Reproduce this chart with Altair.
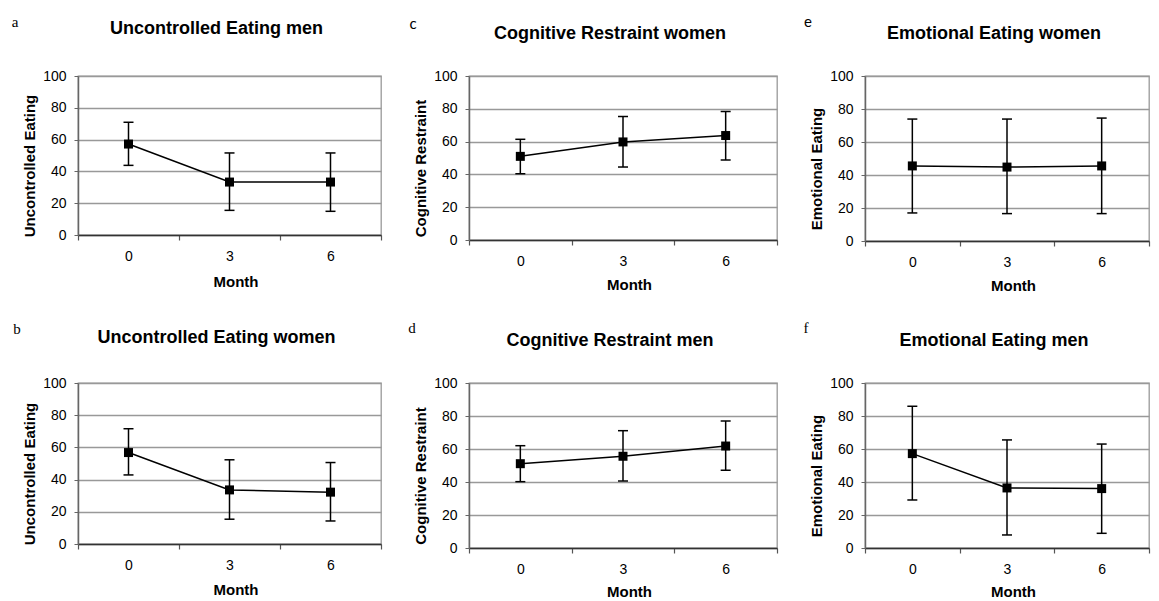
import altair as alt
import pandas as pd

months = ["0", "3", "6"]

ue_men_mean = [57.2, 33.3, 33.3]
ue_men_low = [43.8, 15.5, 14.9]
ue_men_high = [70.9, 51.6, 51.6]

ue_women_mean = [56.8, 33.6, 32.2]
ue_women_low = [42.9, 15.4, 14.3]
ue_women_high = [71.6, 52.3, 50.6]

cr_women_mean = [51.0, 59.8, 63.7]
cr_women_low = [40.4, 44.5, 48.8]
cr_women_high = [61.4, 75.3, 78.4]

cr_men_mean = [51.1, 55.6, 61.8]
cr_men_low = [40.2, 40.6, 47.1]
cr_men_high = [62.0, 71.1, 77.0]

ee_women_mean = [45.5, 44.8, 45.5]
ee_women_low = [17.0, 16.6, 16.6]
ee_women_high = [73.9, 73.9, 74.5]

ee_men_mean = [57.2, 36.4, 36.0]
ee_men_low = [29.1, 7.9, 8.9]
ee_men_high = [85.9, 65.5, 63.0]

y_ticks = [0, 20, 40, 60, 80, 100]

SANS = "Liberation Sans"


def panel(letter, letter_font, title, ytitle, mean, low, high, w, h, toff, lx, ly, xtp):
    df = pd.DataFrame({"Month": months, "mean": mean, "low": low, "high": high})
    x = alt.X(
        "Month:N", sort=months, title="Month",
        scale=alt.Scale(type="band", paddingInner=0, paddingOuter=0),
        axis=alt.Axis(
            labelAngle=0, tickBand="extent", ticks=True, tickSize=5,
            tickColor="#555", tickWidth=1.2, domainColor="#333", domainWidth=1.5,
            labelFontSize=14, labelPadding=9, titleFontSize=15,
            titleFontWeight="bold", titlePadding=xtp, grid=False, titleX=w / 2 + 6,
        ),
    )
    yscale = alt.Scale(domain=[0, 100])
    yaxis = alt.Axis(
        values=y_ticks, grid=True, gridColor="#999", gridWidth=1.3,
        domainColor="#666", domainWidth=1.5, tickColor="#666", tickSize=4,
        labelFontSize=14, labelPadding=8, titleFontSize=15,
        titleFontWeight="bold", titlePadding=5, titleY=h / 2 + 10,
    )
    base = alt.Chart(df).encode(x=x)
    stems = base.mark_rule(color="black", strokeWidth=1.5).encode(
        y=alt.Y("low:Q", scale=yscale, axis=yaxis, title=ytitle), y2="high:Q")
    caps_low = base.mark_tick(color="black", thickness=1.5, size=10, opacity=1).encode(
        y=alt.Y("low:Q", scale=yscale, axis=yaxis, title=ytitle))
    caps_high = base.mark_tick(color="black", thickness=1.5, size=10, opacity=1).encode(
        y=alt.Y("high:Q", scale=yscale, axis=yaxis, title=ytitle))
    line = base.mark_line(color="black", strokeWidth=1.5).encode(
        y=alt.Y("mean:Q", scale=yscale, axis=yaxis, title=ytitle))
    pts = base.mark_square(color="black", size=81, opacity=1).encode(
        y=alt.Y("mean:Q", scale=yscale, axis=yaxis, title=ytitle))
    lab = alt.Chart(pd.DataFrame({"t": [letter]})).mark_text(
        font=letter_font, fontSize=15, color="black", align="center", baseline="middle"
    ).encode(text="t:N", x=alt.value(lx), y=alt.value(ly))
    ttl = alt.Chart(pd.DataFrame({"t": [title]})).mark_text(
        font=SANS, fontSize=18, fontWeight="bold", color="black",
        align="center", baseline="alphabetic",
    ).encode(text="t:N", x=alt.value(w / 2 - 13), y=alt.value(-toff))
    return alt.layer(stems, caps_low, caps_high, line, pts, lab, ttl).properties(
        width=w, height=h,
    )


charts = [
    panel("a", "Liberation Serif", "Uncontrolled Eating men", "Uncontrolled Eating",
          ue_men_mean, ue_men_low, ue_men_high, 303, 159, 42, -63, -54, 11),
    panel("c", "Lato", "Cognitive Restraint women", "Cognitive Restraint",
          cr_women_mean, cr_women_low, cr_women_high, 308, 164, 37, -56, -52, 9),
    panel("e", "Lato", "Emotional Eating women", "Emotional Eating",
          ee_women_mean, ee_women_low, ee_women_high, 284, 165, 37, -57, -54, 9),
    panel("b", "Liberation Serif", "Uncontrolled Eating women", "Uncontrolled Eating",
          ue_women_mean, ue_women_low, ue_women_high, 303, 161, 40, -61, -54, 10),
    panel("d", "Liberation Serif", "Cognitive Restraint men", "Cognitive Restraint",
          cr_men_mean, cr_men_low, cr_men_high, 308, 165, 37, -57, -55, 8),
    panel("f", "Liberation Serif", "Emotional Eating men", "Emotional Eating",
          ee_men_mean, ee_men_low, ee_men_high, 284, 165, 37, -59, -55, 8),
]

chart = alt.concat(
    *charts, columns=3, spacing={"row": 142, "column": 88},
    bounds="flush", align="each",
).properties(
    padding={"left": 3, "top": 6, "right": 0, "bottom": 0},
    background="white",
).configure_view(
    stroke="#999", strokeWidth=1.3,
).configure_axis(
    labelFont=SANS, titleFont=SANS, labelColor="black", titleColor="black",
)

chart.save("out.html", embed_options={"renderer": "svg", "actions": False})
